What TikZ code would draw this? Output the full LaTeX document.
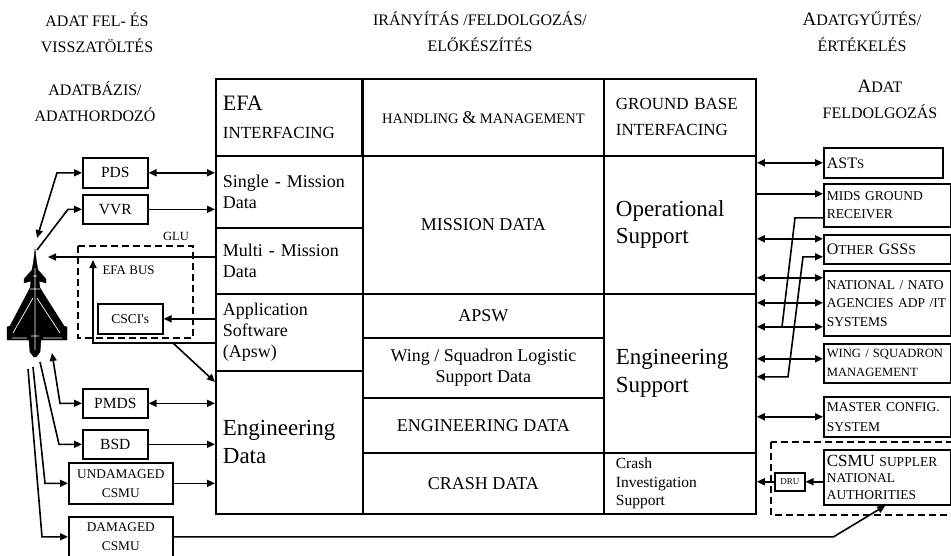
\documentclass[tikz,border=0pt]{standalone}
\usepackage{fontspec}
\setmainfont{Liberation Serif}
\newfontfamily\plainserif{Liberation Serif}
\usetikzlibrary{arrows.meta}

\newcommand{\fsz}[2]{\fontsize{#1}{#2}\selectfont}
\tikzstyle{cell}=[draw,line width=1.8pt,anchor=north west,inner ysep=0pt,font=\fsz{18}{21}]
\tikzstyle{lcell}=[cell,align=left,inner xsep=7pt]
\tikzstyle{ccell}=[cell,align=center]
\tikzstyle{rcell}=[cell,align=left,inner xsep=12pt]
\tikzstyle{box}=[draw,line width=1.6pt,anchor=north west,inner sep=0pt,align=center,font=\fsz{15.5}{19}]
\tikzstyle{rbox}=[draw,line width=1.6pt,anchor=north west,inner xsep=3pt,inner ysep=0pt,align=left,font=\fsz{13.5}{18.5}]
\tikzstyle{head}=[align=center,font=\fsz{16}{26}]
\tikzstyle{dashframe}=[draw,line width=1.5pt,dash pattern=on 7pt off 4pt]
\tikzstyle{link}=[draw,line width=1.6pt]
\tikzstyle{arr}=[link,-{Triangle[length=8pt,width=7pt]}]
\tikzstyle{rarr}=[link,{Triangle[length=8pt,width=7pt]}-]
\tikzstyle{darr}=[link,{Triangle[length=8pt,width=7pt]}-{Triangle[length=8pt,width=7pt]}]

\begin{document}
\begin{tikzpicture}[x=1pt,y=-1pt]
    \useasboundingbox (0,0) rectangle (951,555);
    % headings
    \node[head] (hload) at (97,33) {ADAT FEL- ÉS\\VISSZATÖLTÉS};
    \node[head] (hbase) at (95,102) {ADATBÁZIS/\\ADATHORDOZÓ};
    \node[head] (hctrl) at (480,32) {IRÁNYÍTÁS /FELDOLGOZÁS/\\ELŐKÉSZÍTÉS};
    \node[head] (hcoll) at (862,32) {{\fsz{19}{26}A}DATGYŰJTÉS/\\ÉRTÉKELÉS};
    \node[head] (hproc) at (880,99) {{\fsz{19}{26}A}DAT\\FELDOLGOZÁS};

    % the table
    \node[lcell,text width=132pt,minimum height=77pt,font=\fsz{17}{28}] (efa) at (215,78) {{\fsz{22}{28}EFA}\\INTERFACING};
    \node[ccell,minimum width=241pt,minimum height=77pt] (hm) at (362,78) {\fsz{14.5}{20}HANDLING {\fsz{18}{20}\&} MANAGEMENT};
    \node[rcell,text width=128pt,minimum height=77pt,font=\fsz{17}{26}] (gbi) at (603,78) {GROUND BASE\\INTERFACING};
    \node[lcell,text width=133pt,minimum height=72pt] (sm) at (215,155) {Single - Mission\\Data};
    \node[lcell,text width=133pt,minimum height=66pt] (mm) at (215,227) {Multi - Mission\\Data};
    \node[lcell,text width=133pt,minimum height=77pt] (aps) at (215,293) {Application\\Software\\(Apsw)};
    \node[lcell,text width=133pt,minimum height=143pt,font=\fsz{23}{28}] (eng) at (215,370) {Engineering\\Data};
    \node[ccell,minimum width=241pt,minimum height=138pt,font=\fsz{18}{21}] (mis) at (362,155) {MISSION DATA};
    \node[ccell,minimum width=241pt,minimum height=44pt,font=\fsz{18}{21}] (apsw) at (362,293) {APSW};
    \node[ccell,minimum width=241pt,minimum height=60pt] (wsl) at (362,337) {Wing / Squadron Logistic\\Support Data};
    \node[ccell,minimum width=241pt,minimum height=55pt,font=\fsz{18}{21}] (engd) at (362,397) {ENGINEERING DATA};
    \node[ccell,minimum width=241pt,minimum height=61pt,font=\fsz{18}{21}] (crd) at (362,452) {CRASH DATA};
    \node[rcell,text width=128pt,minimum height=138pt,font=\fsz{23}{27}] (ops) at (603,155) {Operational\\Support};
    \node[rcell,text width=128pt,minimum height=159pt,font=\fsz{23}{28}] (ens) at (603,293) {Engineering\\Support};
    \node[rcell,text width=128pt,minimum height=61pt,font=\fsz{15.5}{18.5}] (cis) at (603,452) {Crash\\Investigation\\Support};

    % left side: the aircraft and its stores
    \filldraw[black] (35,249) -- (36.5,262) -- (38,270) -- (46,279) -- (46,283) -- (39,281) -- (40,288)
        -- (64,326) -- (67,327) -- (67,340) -- (41,340) -- (40,352) -- (36,357) -- (34,357) -- (30,352)
        -- (29,340) -- (7,340) -- (7,327) -- (10,326) -- (30,288) -- (31,281) -- (24,283) -- (24,279)
        -- (32,270) -- (33.5,262) -- cycle;
    \draw[white,line width=0.7pt] (35,268) -- (35,350) (33,298) -- (13,333) (37,298) -- (60,333)
        (31,336) -- (39,336) (30,289) -- (40,289) (33,276) -- (37,276) (12,338) -- (27,338) (43,338) -- (62,338);
    \coordinate (jpds) at (37,238);
    \coordinate (jvvr) at (37,250);
    \coordinate (jmm) at (48,257);
    \coordinate (jpmds) at (52,353);
    \coordinate (jbsd) at (40,362);
    \coordinate (jund) at (33,367);
    \coordinate (jdam) at (28,369);

    \node[box,minimum width=65pt,minimum height=30pt] (pds) at (82,157) {PDS};
    \node[box,minimum width=65pt,minimum height=29pt] (vvr) at (82,194) {VVR};
    \node[box,minimum width=65pt,minimum height=29pt] (pmds) at (82,388) {PMDS};
    \node[box,minimum width=65pt,minimum height=29pt] (bsd) at (82,429) {BSD};
    \node[box,minimum width=104pt,minimum height=41pt,font=\fsz{13.3}{19}] (und) at (68,462) {UNDAMAGED\\CSMU};
    \node[box,minimum width=104pt,minimum height=40pt,font=\fsz{13.3}{19}] (dam) at (68,516) {DAMAGED\\CSMU};

    % GLU
    \draw[dashframe] (78,246) rectangle (193,338);
    \node[font=\fsz{12.5}{15}] (glu) at (176,236) {GLU};
    \node[anchor=west,font=\fsz{13}{15}] (bus) at (99,270) {EFA BUS};
    \node[box,minimum width=65pt,minimum height=30pt,font=\fsz{13.5}{16}\plainserif] (csci) at (97,303) {CSCI's};
    \coordinate (busb) at (93,343);
    \coordinate (bust) at (93,260);
    \coordinate (busk) at (173,343);

    % right side systems
    \node[rbox,text width=113pt,minimum height=30pt,font=\fsz{16}{18.5}] (asts) at (823,147) {AST{\fsz{13}{18.5}S}};
    \node[rbox,text width=121pt,minimum height=43pt] (mids) at (823,183) {MIDS GROUND\\RECEIVER};
    \node[rbox,text width=121pt,minimum height=29pt,font=\fsz{16}{18.5}] (othr) at (823,234) {O{\fsz{13.5}{18.5}THER} GSS{\fsz{13.5}{18.5}S}};
    \node[rbox,text width=121pt,minimum height=65pt] (nat) at (823,270) {NATIONAL / NATO\\AGENCIES ADP /IT\\SYSTEMS};
    \node[rbox,text width=121pt,minimum height=39pt,font=\fsz{12.6}{19}] (wing) at (823,343) {WING / SQUADRON\\MANAGEMENT};
    \node[rbox,text width=121pt,minimum height=40pt,font=\fsz{13.5}{20}] (mast) at (823,396) {MASTER CONFIG.\\SYSTEM};
    \draw[dashframe] (771,442) rectangle (965,515);
    \node[rbox,text width=121pt,minimum height=55pt,font=\fsz{13.5}{16.5}] (csmu) at (823,449) {{\fsz{17}{16.5}CSMU} SUPPLER\\NATIONAL\\AUTHORITIES};
    \node[draw,line width=1.5pt,anchor=north west,inner sep=0pt,minimum width=30pt,minimum height=18pt,font=\fsz{9}{10}] (dru) at (774,472) {DRU};

    % connectors on the left
    \draw[darr] (pds.west) -- ++(-25,0) -- (jpds);
    \draw[rarr] (vvr.west) -- ++(-14,0) -- (jvvr);
    \draw[darr] (pds.east) -- (pds.east -| sm.west);
    \draw[arr] (vvr.east) -- (vvr.east -| sm.west);
    \draw[arr] (jmm -| mm.west) -- (jmm);
    \draw[arr] (csci.east -| aps.west) -- (csci.east);
    \draw[arr] (busb -| aps.west) -- (busb) -- (bust);
    \draw[arr] (busk) -- ([yshift=-12pt]eng.north west);
    \draw[darr] (pmds.west) -- ++(-22,0) -- (jpmds);
    \draw[darr] (pmds.east) -- (pmds.east -| eng.west);
    \draw[rarr] (bsd.west) -- ++(-23,0) -- (jbsd);
    \draw[arr] (bsd.east) -- (bsd.east -| eng.west);
    \draw[rarr] (und.west) -- ++(-23,0) -- (jund);
    \draw[arr] (und.east) -- (und.east -| eng.west);
    \draw[rarr] (dam.west) -- ++(-26,0) -- (jdam);
    \draw[arr] (dam.east) -- ++(660,0) -- ([xshift=-2pt]csmu.south);

    % connectors on the right
    \draw[darr] (asts.west -| ops.east) -- (asts.west);
    \draw[arr] ([yshift=11.5pt]mids.west -| ops.east) -- ([yshift=11.5pt]mids.west);
    \draw[darr] ([yshift=10.5pt]othr.west -| ops.east) -- ([yshift=10.5pt]othr.west);
    \foreach \dy in {25.5,0.5,-23.5}
        \draw[darr] ([yshift=\dy pt]nat.west -| ops.east) -- ([yshift=\dy pt]nat.west);
    \draw[darr] ([yshift=4.5pt]wing.west -| ens.east) -- ([yshift=4.5pt]wing.west);
    \draw[darr] (mast.west -| ens.east) -- (mast.west);
    \draw[link] ([yshift=-12.5pt]mids.west) -- ++(-28,0) -- ++(-13,109);
    \draw[darr] ([yshift=-7.5pt]othr.west) -- ++(-20,0) -- ++(-15,120) coordinate (gss) -- (gss -| ens.east);
    \draw[arr] (dru.east -| csmu.west) -- (dru.east);
    \draw[arr] (dru.west) -- (dru.west -| cis.east);
\end{tikzpicture}
\end{document}
